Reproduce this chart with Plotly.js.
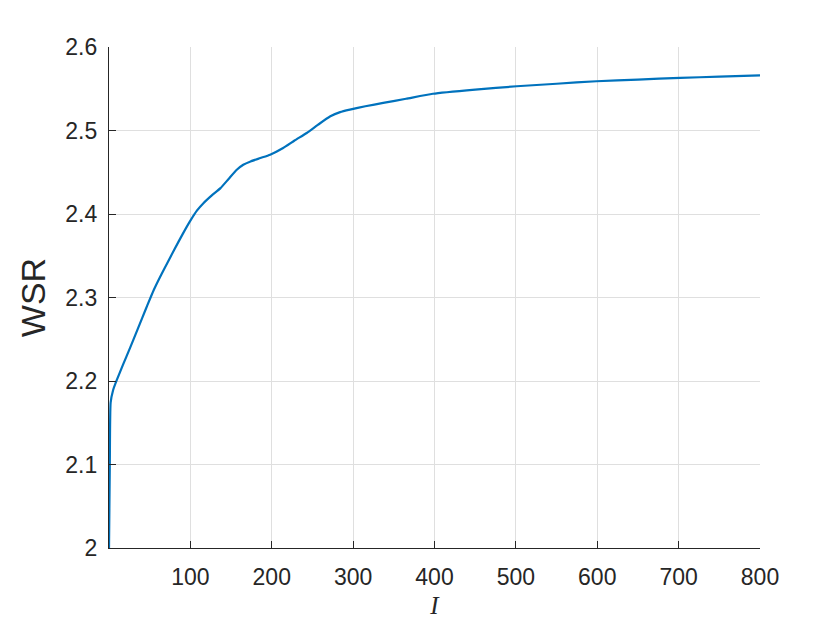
<!DOCTYPE html>
<html>
<head>
<meta charset="utf-8">
<script src="https://cdn.plot.ly/plotly-3.0.1.min.js"></script>
<style>
  body { margin: 0; background: #fff; }
  #plot { width: 840px; height: 630px; }
</style>
</head>
<body>
<div id="plot"></div>
<script>
// iterations and weighted sum rate
const iters = [0, 1, 2, 5, 9.5, 17, 26, 36, 46, 55, 64, 72, 80, 90, 100, 108, 116, 126, 137, 147, 157, 165, 174, 186, 198, 214, 228, 243, 257, 272, 284, 296, 315, 337, 365, 398, 450, 501, 550, 599, 650, 702, 750, 800];
const wsr = [2.0, 2.1, 2.174, 2.189, 2.201, 2.219, 2.240, 2.264, 2.288, 2.309, 2.327, 2.342, 2.357, 2.375, 2.392, 2.404, 2.413, 2.422, 2.431, 2.442, 2.453, 2.459, 2.463, 2.467, 2.471, 2.479, 2.488, 2.497, 2.507, 2.517, 2.522, 2.525, 2.529, 2.533, 2.538, 2.544, 2.549, 2.553, 2.556, 2.559, 2.561, 2.563, 2.5645, 2.566];
const xTicks = [100, 200, 300, 400, 500, 600, 700, 800];
const yTicks = [2, 2.1, 2.2, 2.3, 2.4, 2.5, 2.6];

const axisColor = '#262626';
const gridColor = '#dfdfdf';

const data = [{
    x: iters, y: wsr, type: 'scatter', mode: 'lines',
    line: {color: '#0072BD', width: 2.2, shape: 'spline', smoothing: 0.5},
    showlegend: false, hoverinfo: 'skip'
}];

const layout = {
    width: 840,
    height: 630,
    margin: {l: 109, r: 80, t: 47, b: 82},
    paper_bgcolor: '#fff',
    plot_bgcolor: '#fff',
    font: {family: 'Liberation Sans, Arial, sans-serif', color: axisColor, size: 23},
    xaxis: {
        range: [0, 800],
        tickvals: xTicks,
        ticks: 'inside', ticklen: 7, tickcolor: axisColor,
        ticklabelstandoff: 8,
        showline: true, linecolor: axisColor, linewidth: 1.2,
        showgrid: true, gridcolor: gridColor, gridwidth: 1,
        zeroline: false,
        tickfont: {size: 23, color: axisColor},
        title: {text: 'I', font: {family: 'Liberation Serif, Times New Roman, serif', size: 25, style: 'italic', color: axisColor}, standoff: 7}
    },
    yaxis: {
        range: [2, 2.6],
        tickvals: yTicks,
        ticks: 'inside', ticklen: 7, tickcolor: axisColor,
        ticklabelstandoff: 6,
        showline: true, linecolor: axisColor, linewidth: 1.2,
        showgrid: true, gridcolor: gridColor, gridwidth: 1,
        zeroline: false,
        tickfont: {size: 23, color: axisColor},
        title: {text: 'WSR', font: {size: 34, color: axisColor}, standoff: 9}
    }
};

Plotly.newPlot('plot', data, layout, {staticPlot: true});
</script>
</body>
</html>
